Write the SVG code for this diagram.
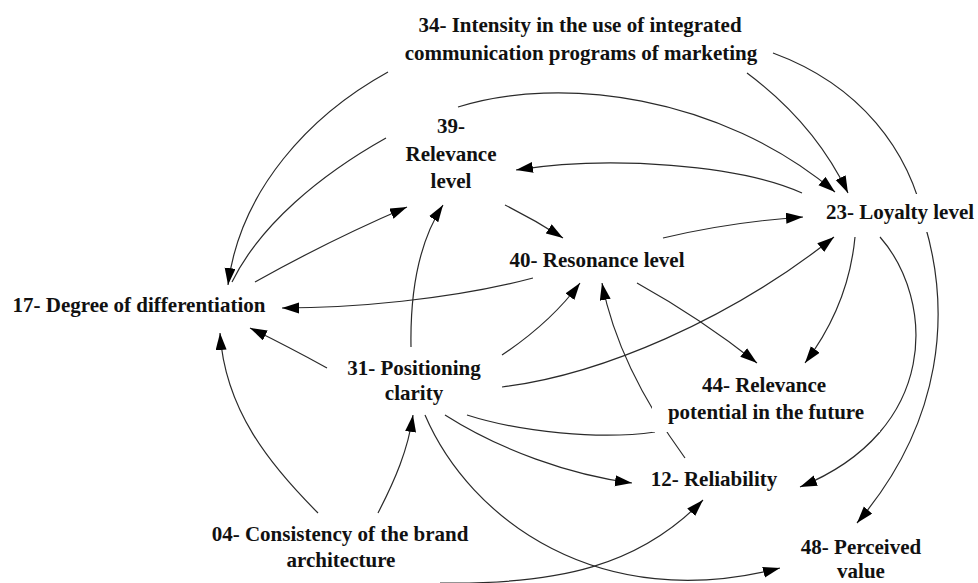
<svg xmlns="http://www.w3.org/2000/svg" width="978" height="583" viewBox="0 0 978 583">
<style>
  text { font-family: 'Liberation Serif', 'DejaVu Serif', serif; font-weight: 700; font-size: 21px; fill: #111; text-anchor: middle; }
  .edge { fill: none; stroke: #2a2a2a; stroke-width: 1.2; }
  .arr { marker-end: url(#ah); }
  .bg { fill: #fff; stroke: none; }
</style>
<defs>
  <marker id="ah" markerUnits="userSpaceOnUse" markerWidth="18" markerHeight="12" refX="17" refY="5.5" orient="auto">
    <path d="M0,0 L17,5.5 L0,11 z" fill="#000"/>
  </marker>
</defs>
<rect width="978" height="583" fill="#fff"/>
<g id="connectors">
  <path class="edge arr" d="M388,72 C310,115 240,190 228,285"/>
  <path class="edge" d="M386,138 C320,175 260,225 232,282"/>
  <path class="edge arr" d="M255,282 Q330,240 407,207"/>
  <path class="edge arr" d="M533,278 C450,300 350,308 282,308"/>
  <path class="edge arr" d="M327,368 Q285,345 250,328"/>
  <path class="edge arr" d="M318,513 C270,465 225,410 220,333"/>
  <path class="edge arr" d="M411,347 C410,290 420,240 443,205"/>
  <path class="edge arr" d="M378,513 C395,480 408,450 413,415"/>
  <path class="edge arr" d="M502,355 C535,333 560,310 580,283"/>
  <path class="edge arr" d="M502,387 C600,375 730,320 834,237"/>
  <path class="edge arr" d="M505,205 Q535,220 563,238"/>
  <path class="edge arr" d="M663,238 Q730,222 803,217"/>
  <path class="edge arr" d="M637,283 Q700,318 757,363"/>
  <path class="edge arr" d="M855,237 C850,290 830,330 805,363"/>
  <path class="edge arr" d="M685,458 C650,410 615,350 602,283"/>
  <path class="edge arr" d="M773,53 C860,85 910,150 925,225 C950,310 945,420 857,523"/>
  <path class="edge arr" d="M880,237 C935,300 940,430 800,487"/>
  <path class="edge arr" d="M747,73 C790,105 825,145 848,193"/>
  <path class="edge arr" d="M458,107 C560,75 720,95 835,192"/>
  <path class="edge arr" d="M802,193 C740,165 610,155 516,170"/>
  <path class="edge" d="M467,415 C520,432 600,440 655,432"/>
  <path class="edge arr" d="M445,415 C500,450 570,475 632,483"/>
  <path class="edge arr" d="M425,415 C470,520 600,615 780,568"/>
  <path class="edge arr" d="M440,583 C560,585 640,565 703,500"/>
</g>
<g font-family="'Liberation Serif', serif" font-weight="bold">
<g id="n34"><text x="580" y="32">34- Intensity in the use of integrated</text><text x="581" y="60">communication programs of marketing</text></g>
<g id="n39"><text x="451" y="133">39-</text><text x="451" y="161">Relevance</text><text x="451" y="188">level</text></g>
<g id="n23"><rect class="bg" x="804" y="194" width="174" height="38"/><text x="900" y="219">23- Loyalty level</text></g>
<g id="n40"><text x="597" y="267">40- Resonance level</text></g>
<g id="n17"><text x="139" y="312">17- Degree of differentiation</text></g>
<g id="n31"><text x="414" y="375">31- Positioning</text><text x="414" y="400">clarity</text></g>
<g id="n44"><rect class="bg" x="652" y="370" width="228" height="62"/><text x="764" y="392">44- Relevance</text><text x="766" y="419">potential in the future</text></g>
<g id="n12"><text x="714" y="486">12- Reliability</text></g>
<g id="n04"><text x="340" y="541">04- Consistency of the brand</text><text x="341" y="567">architecture</text></g>
<g id="n48"><text x="861" y="554">48- Perceived</text><text x="861" y="578">value</text></g>
</g>
</svg>
